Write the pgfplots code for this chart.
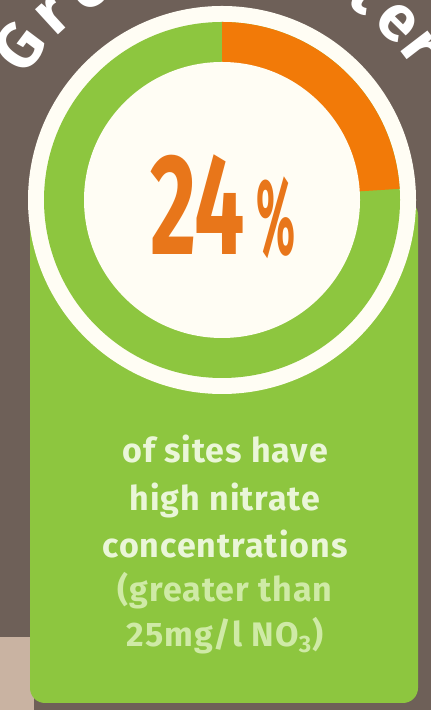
\documentclass[border=0pt]{standalone}
\usepackage{pgfplots}
\pgfplotsset{compat=1.18}
\usepackage{pgfplotstable}
\usepackage{fontspec}
\setmainfont{Fira Sans}
\newfontfamily\panelfont{Fira Sans}[LetterSpace=3]
\definecolor{bgbrown}{HTML}{6E6058}
\definecolor{beige}{HTML}{C9B3A2}
\definecolor{ggreen}{HTML}{8DC63F}
\definecolor{dorange}{HTML}{F27A08}
\definecolor{numorange}{HTML}{E8761A}
\definecolor{offwhite}{HTML}{FFFDF4}
\definecolor{txtA}{HTML}{EAF6D8}
\definecolor{txtB}{HTML}{CFEAA6}

\pgfplotstableread{
part share
high 24
other 76
}\sharetable

\begin{document}
\begin{tikzpicture}
\useasboundingbox (0,0) rectangle (215.5pt,355pt);
\pgfplotstablegetelem{0}{share}\of\sharetable
\pgfmathsetmacro{\orangeend}{90-3.6*\pgfplotsretval}
\begin{axis}[x=0.5pt,y=0.5pt,xmin=0,xmax=431,ymin=0,ymax=710,
  hide axis, clip=true, anchor=south west, at={(0,0)}]
% background
\fill[bgbrown] (axis cs:0,0) rectangle (axis cs:431,710);
\fill[beige] (axis cs:0,0) rectangle (axis cs:34,73);
% green panel
\fill[ggreen, rounded corners=7.5pt] (axis cs:30,7) rectangle (axis cs:418,510);
% donut
\fill[offwhite] (axis cs:222,510) circle[radius=97pt];
\fill[ggreen] (axis cs:222,510) circle[radius=89pt];
\fill[dorange] (axis cs:222,510) -- ++(90:89pt) arc[start angle=90, end angle=\orangeend, radius=89pt] -- cycle;
\fill[offwhite] (axis cs:222,510) circle[radius=69pt];
% 24%
\node[anchor=base west, inner sep=0, text=numorange] at (axis cs:150,455)
  {\scalebox{0.62}[1]{\fontsize{72}{72}\selectfont\bfseries 24}};
\node[anchor=base west, inner sep=0, text=numorange] at (axis cs:256,455)
  {\scalebox{0.42}[1]{\fontsize{54}{54}\selectfont\bfseries\%}};
% panel text
\node[anchor=base, inner sep=0, text=txtA] at (axis cs:225,247) {\panelfont\fontsize{17}{17}\selectfont\bfseries of sites have};
\node[anchor=base, inner sep=0, text=txtA] at (axis cs:225,199) {\panelfont\fontsize{17}{17}\selectfont\bfseries high nitrate};
\node[anchor=base, inner sep=0, text=txtA] at (axis cs:225,152) {\panelfont\fontsize{17}{17}\selectfont\bfseries concentrations};
\node[anchor=base, inner sep=0, text=txtB] at (axis cs:225,108) {\panelfont\fontsize{17}{17}\selectfont\bfseries (greater than};
\node[anchor=base, inner sep=0, text=txtB] at (axis cs:225,63) {\panelfont\fontsize{17}{17}\selectfont\bfseries 25mg/l NO\textsubscript{3})};
% curved title
\node[anchor=base, inner sep=0, text=white, rotate=53] at (axis cs:{222+232*cos(143)},{510+232*sin(143)}) {\fontsize{32}{32}\selectfont\bfseries G};
\node[anchor=base, inner sep=0, text=white, rotate=42.5] at (axis cs:{222+232*cos(132.5)},{510+232*sin(132.5)}) {\fontsize{32}{32}\selectfont\bfseries r};
\node[anchor=base, inner sep=0, text=white, rotate=32] at (axis cs:{222+232*cos(122)},{510+232*sin(122)}) {\fontsize{32}{32}\selectfont\bfseries o};
\node[anchor=base, inner sep=0, text=white, rotate=21] at (axis cs:{222+232*cos(111)},{510+232*sin(111)}) {\fontsize{32}{32}\selectfont\bfseries u};
\node[anchor=base, inner sep=0, text=white, rotate=10] at (axis cs:{222+232*cos(100)},{510+232*sin(100)}) {\fontsize{32}{32}\selectfont\bfseries n};
\node[anchor=base, inner sep=0, text=white, rotate=-1] at (axis cs:{222+232*cos(89)},{510+232*sin(89)}) {\fontsize{32}{32}\selectfont\bfseries d};
\node[anchor=base, inner sep=0, text=white, rotate=-13.5] at (axis cs:{222+232*cos(76.5)},{510+232*sin(76.5)}) {\fontsize{32}{32}\selectfont\bfseries w};
\node[anchor=base, inner sep=0, text=white, rotate=-25.5] at (axis cs:{222+232*cos(64.5)},{510+232*sin(64.5)}) {\fontsize{32}{32}\selectfont\bfseries a};
\node[anchor=base, inner sep=0, text=white, rotate=-35] at (axis cs:{222+232*cos(55)},{510+232*sin(55)}) {\fontsize{32}{32}\selectfont\bfseries t};
\node[anchor=base, inner sep=0, text=white, rotate=-44.5] at (axis cs:{222+232*cos(45.5)},{510+232*sin(45.5)}) {\fontsize{32}{32}\selectfont\bfseries e};
\node[anchor=base, inner sep=0, text=white, rotate=-52.5] at (axis cs:{222+232*cos(37.5)},{510+232*sin(37.5)}) {\fontsize{32}{32}\selectfont\bfseries r};
\end{axis}
\end{tikzpicture}
\end{document}
